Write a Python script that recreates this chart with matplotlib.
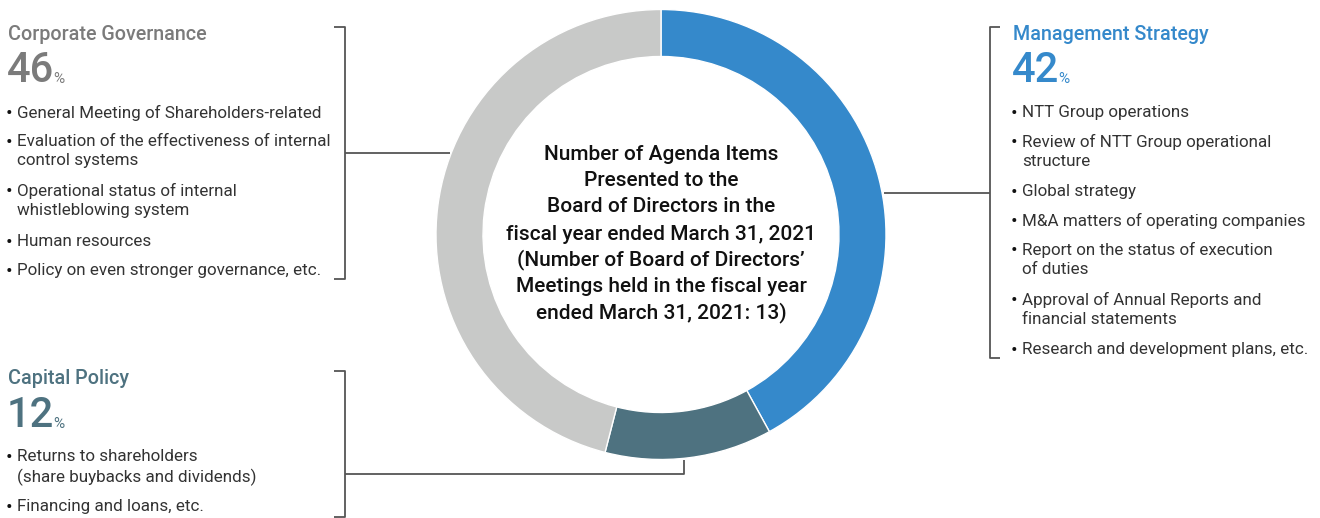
import matplotlib.pyplot as plt

plt.rcParams['font.family'] = ['Roboto', 'DejaVu Sans']

categories = ['Management Strategy', 'Capital Policy', 'Corporate Governance']
shares = [42, 12, 46]
colors = ['#3589cb', '#4e7280', '#c8c9c8']
title_colors = ['#3589cb', '#4e7280', '#7b7b7b']

mgmt_items = ['NTT Group operations',
              'Review of NTT Group operational\nstructure',
              'Global strategy',
              'M&A matters of operating companies',
              'Report on the status of execution\nof duties',
              'Approval of Annual Reports and\nfinancial statements',
              'Research and development plans, etc.']
capital_items = ['Returns to shareholders\n(share buybacks and dividends)',
                 'Financing and loans, etc.']
gov_items = ['General Meeting of Shareholders-related',
             'Evaluation of the effectiveness of internal\ncontrol systems',
             'Operational status of internal\nwhistleblowing system',
             'Human resources',
             'Policy on even stronger governance, etc.']

center_lines = ['Number of Agenda Items', 'Presented to the',
                'Board of Directors in the',
                'fiscal year ended March 31, 2021',
                '(Number of Board of Directors\u2019',
                'Meetings held in the fiscal year',
                'ended March 31, 2021: 13)']

W, H = 1320, 518
fig = plt.figure(figsize=(13.2, 5.18), dpi=100)
ax = fig.add_axes([0, 0, 1, 1])

# donut (y measured from the bottom)
cx, cy, R = 661, H - 234.5, 225
ax.pie(shares, colors=colors, startangle=90, counterclock=False,
       center=(cx, cy), radius=R,
       wedgeprops=dict(width=47, edgecolor='white', linewidth=1.0))
ax.set_xlim(0, W)
ax.set_ylim(0, H)
ax.set_aspect('equal')
ax.axis('off')

def Y(y):
    return H - y

line_kw = dict(color='#555555', lw=1.3, solid_capstyle='butt')

# leader lines / brackets
ax.plot([334, 345, 345, 334], [Y(27), Y(27), Y(279), Y(279)], **line_kw)
ax.plot([345, 450], [Y(153), Y(153)], **line_kw)
ax.plot([1000, 990, 990, 1000], [Y(27), Y(27), Y(358), Y(358)], **line_kw)
ax.plot([884, 990], [Y(192.5), Y(192.5)], **line_kw)
ax.plot([334, 345, 345, 334], [Y(371), Y(371), Y(517), Y(517)], **line_kw)
ax.plot([345, 684, 684], [Y(474), Y(474), Y(460)], **line_kw)

fig.canvas.draw()
renderer = fig.canvas.get_renderer()

def block(x, y_title, idx, items, item_ys):
    ax.text(x, Y(y_title), categories[idx], color=title_colors[idx],
            fontsize=14.2, fontweight='medium', va='center', ha='left')
    t = ax.text(x - 1, Y(y_title + 48), str(shares[idx]), color=title_colors[idx],
                fontsize=30, fontweight='medium', va='baseline', ha='left')
    bb = t.get_window_extent(renderer)
    ax.text(bb.x1 - 1, Y(y_title + 49), '%', color=title_colors[idx],
            fontsize=11, va='baseline', ha='left')
    for item, yy in zip(items, item_ys):
        ax.text(x - 2, Y(yy + 9), '\u2022', color='#111111', fontsize=14,
                va='center', ha='left')
        ax.text(x + 9, Y(yy), item, color='#333333', fontsize=12.25,
                va='top', ha='left', linespacing=1.36)

# item tops (first-line top in px)
block(8, 34, 2, gov_items, [105, 134, 183, 234, 263])
block(1013, 34, 0, mgmt_items, [105, 134, 184, 213, 242, 292, 342])
block(8, 379, 1, capital_items, [449, 499])

center_ys = [155, 181, 207, 234, 260, 287, 313]
for line, yy in zip(center_lines, center_ys):
    ax.text(cx, Y(yy), line, ha='center', va='center', fontsize=15,
            fontweight='medium', color='#111111')

fig.savefig('out.png', dpi=100)
